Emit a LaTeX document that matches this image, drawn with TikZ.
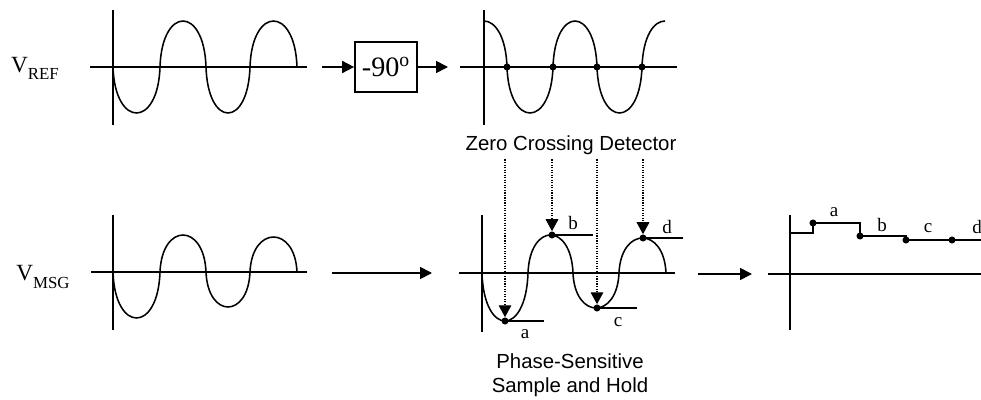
\documentclass[tikz,border=0pt]{standalone}
\usepackage{fontspec}
\setmainfont{Liberation Serif}
\setsansfont{Liberation Sans}
\usetikzlibrary{arrows.meta,positioning}
\tikzset{
  axis/.style={line width=1.2pt},
  wave/.style={line width=1.1pt},
  hold/.style={line width=1.1pt},
  zdot/.style={circle,fill,inner sep=0pt,minimum size=5pt},
  sdot/.style={circle,fill,inner sep=0pt,minimum size=5pt},
  blk/.style ={draw,line width=1.2pt,minimum width=1.55cm,minimum height=1.25cm,inner sep=0pt,font=\fontsize{20}{20}\selectfont},
  lbl/.style ={font=\fontsize{13.5}{13.5}\selectfont,inner sep=1pt},
  ttl/.style ={font=\sffamily\fontsize{14.5}{17}\selectfont,align=center},
  ar/.style  ={-{Triangle[length=8.5pt,width=8.5pt]},line width=1.2pt},
  dar/.style ={-{Triangle[length=8.5pt,width=9pt]},densely dotted,line width=0.8pt},
}

\begin{document}
\begin{tikzpicture}[x=0.025cm,y=-0.025cm]
  \useasboundingbox (0,0) rectangle (981,400);
  % signal names
  \node (vref) at (35,68) {\fontsize{16.5}{16.5}\selectfont V\raisebox{-5pt}{\fontsize{12}{12}\selectfont REF}};
  \node (vmsg) at (43,277) {\fontsize{16.5}{16.5}\selectfont V\raisebox{-5pt}{\fontsize{12}{12}\selectfont MSG}};

  % reference wave (top left)
  \draw[axis] (113,10) -- (113,125);
  \draw[axis] (90,67) -- (307,67);
  \foreach \a/\b/\A in {113/160/46,160/206/-46,206/250/46,250/297/-46}
    \draw[wave] (\a,67) .. controls ({\a+2},{67+1.333*\A}) and ({\b-2},{67+1.333*\A}) .. (\b,67);

  % phase shifter
  \coordinate (r1) at (322,67);
  \node[blk] (shift) at (386,67) {-90\textsuperscript{o}};
  \coordinate (r2) at (448,67);
  \draw[ar] (r1) -- (shift.west);
  \draw[ar] (shift.east) -- (r2);

  % shifted wave with zero crossings (top right)
  \draw[axis] (484,10) -- (484,125);
  \draw[axis] (460,67) -- (677,67);
  \draw[wave] (484,21) .. controls (495,21) and (506,36.3) .. (507,67);
  \foreach \a/\b/\A in {507/553/46,553/597/-46,597/642/46}
    \draw[wave] (\a,67) .. controls ({\a+2},{67+1.333*\A}) and ({\b-2},{67+1.333*\A}) .. (\b,67);
  \draw[wave] (642,67) .. controls (643,36.3) and (653.7,21) .. (665,21);
  \node[zdot] (za) at (507,67) {};
  \node[zdot] (zb) at (553,67) {};
  \node[zdot] (zc) at (597,67) {};
  \node[zdot] (zd) at (642,67) {};
  \node[ttl] (zcd) at (571,145) {Zero Crossing Detector};

  % message wave (bottom left)
  \draw[axis] (113,215) -- (113,330);
  \draw[axis] (91,272) -- (307,272);
  \foreach \a/\b/\A in {113/160/46,160/206/-37,206/250/35,250/297/-35}
    \draw[wave] (\a,272) .. controls ({\a+2},{272+1.333*\A}) and ({\b-2},{272+1.333*\A}) .. (\b,272);
  \coordinate (m1) at (332,273);
  \coordinate (m2) at (432,273);
  \draw[ar] (m1) -- (m2);

  % sample and hold (bottom middle)
  \draw[axis] (482,215) -- (482,332);
  \draw[axis] (459,273) -- (675,273);
  \foreach \a/\b/\A in {482/528/48,528/573/-38,573/619/35,619/666/-35}
    \draw[wave] (\a,273) .. controls ({\a+2},{273+1.333*\A}) and ({\b-2},{273+1.333*\A}) .. (\b,273);
  \node[sdot] (sa) at (505,321) {};
  \node[sdot] (sb) at (552,235) {};
  \node[sdot] (sc) at (597,308) {};
  \node[sdot] (sd) at (643,238) {};
  \draw[hold] (sa.center) -- ++(39,0);
  \draw[hold] (sb.center) -- ++(41,0);
  \draw[hold] (sc.center) -- ++(40,0);
  \draw[hold] (sd.center) -- ++(40,0);
  \node[lbl] at (525,334) {a};
  \node[lbl] at (573,223) {b};
  \node[lbl] at (618,322) {c};
  \node[lbl] at (667,227) {d};
  \foreach \s in {sa,sb,sc,sd}
    \draw[dar] (\s |- zcd.south) -- (\s);
  \node[ttl] (psh) at (570,375) {Phase-Sensitive\\Sample and Hold};
  \coordinate (s1) at (698,274);
  \coordinate (s2) at (752,274);
  \draw[ar] (s1) -- (s2);

  % held output (bottom right)
  \draw[axis] (790,215) -- (790,330);
  \draw[axis] (768,274) -- (981,274);
  \node[sdot] (oa) at (813,223) {};
  \node[sdot] (ob) at (860,236) {};
  \node[sdot] (oc) at (906,240) {};
  \node[sdot] (od) at (952,240) {};
  \draw[hold] (790,233) -| (oa.center) -| (ob.center) -| (oc.center) -- (od.center) -- (981,240);
  \node[lbl] at (834,212) {a};
  \node[lbl] at (882,225) {b};
  \node[lbl] at (928,228) {c};
  \node[lbl] at (977,227) {d};
\end{tikzpicture}
\end{document}
